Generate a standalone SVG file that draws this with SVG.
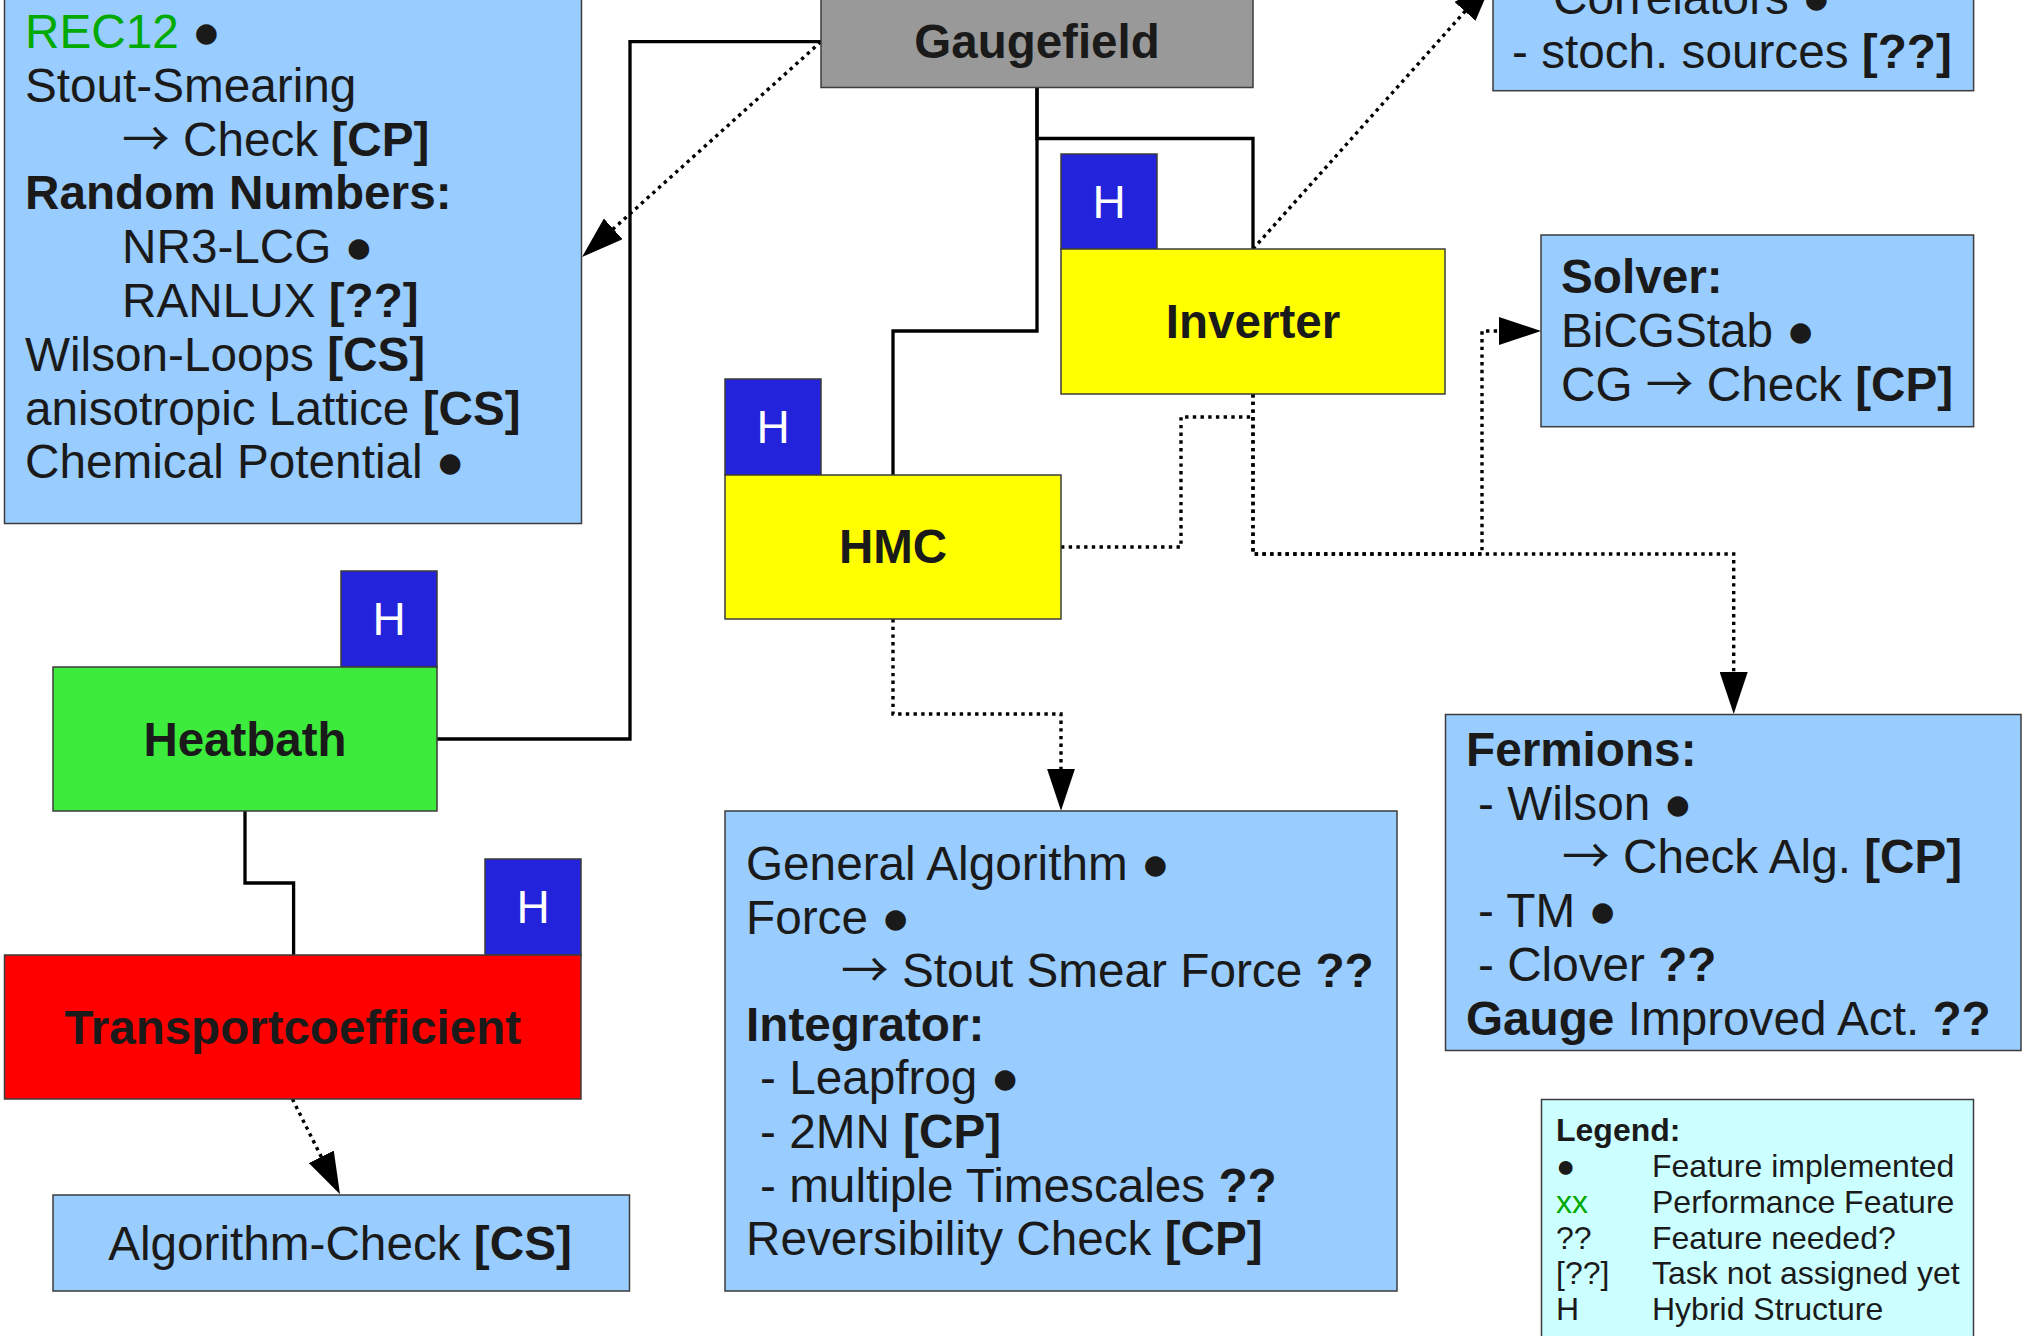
<svg xmlns="http://www.w3.org/2000/svg" width="2029" height="1336" viewBox="0 0 2029 1336">
<style>
text{font-family:"Liberation Sans",Arial,sans-serif;fill:#1a1a1a}
.t{font-size:47.7px}
.lbl{font-size:47.5px;font-weight:bold;text-anchor:middle}
.h{font-size:46px;fill:#ffffff;text-anchor:middle}
.lg{font-size:32px}
.b{font-weight:bold}
.g{fill:#00aa00}
.ar{font-family:"Noto Sans CJK SC","DejaVu Sans",sans-serif;font-weight:normal}
.box{stroke:#3c3c3c;stroke-width:1.5}
.info{fill:#99ccff}
.hb{fill:#2323dc}
.solid{fill:none;stroke:#000;stroke-width:3.3}
.dot{fill:none;stroke:#000;stroke-width:3.4;stroke-dasharray:3.4 4.3}
</style>
<defs>
<marker id="arr" markerUnits="userSpaceOnUse" markerWidth="42" markerHeight="28" viewBox="0 0 42 28" refX="36" refY="14" orient="auto">
<path d="M0,0 L42,14 L0,28 z" fill="#000"/>
</marker>
</defs>
<rect width="2029" height="1336" fill="#ffffff"/>

<g id="connectors">
<path class="solid" d="M821,41.7 H630 V739 H437"/>
<path class="solid" d="M1037,87.5 V331 H893 V475"/>
<path class="solid" d="M1037,87.5 V138.5 H1253 V249"/>
<path class="solid" d="M245,811 V883 H293.6 V955"/>
<path class="dot" d="M821,41.7 L586.5,253" marker-end="url(#arr)"/>
<path class="dot" d="M1253,249 L1489,-15.5" marker-end="url(#arr)"/>
<path class="dot" d="M1253,394 V554 H1482 V331 H1535" marker-end="url(#arr)"/>
<path class="dot" d="M1253,394 V554 H1733.7 V708" marker-end="url(#arr)"/>
<path class="dot" d="M1061,547 H1181 V417 H1253"/>
<path class="dot" d="M893,619 V714 H1061 V804.7" marker-end="url(#arr)"/>
<path class="dot" d="M292.4,1099 L337.3,1189" marker-end="url(#arr)"/>
</g>

<g id="gauge-features">
<rect class="box info" x="4.5" y="-10" width="577" height="533.5"/>
<text class="t" x="25" y="48"><tspan class="g">REC12</tspan> ●</text>
<text class="t" x="25" y="101.8">Stout-Smearing</text>
<text class="t" x="122" y="155.6"><tspan class="ar">→</tspan> Check <tspan class="b">[CP]</tspan></text>
<text class="t b" x="25" y="209.4">Random Numbers:</text>
<text class="t" x="122" y="263.2">NR3-LCG ●</text>
<text class="t" x="122" y="317">RANLUX <tspan class="b">[??]</tspan></text>
<text class="t" x="25" y="370.8">Wilson-Loops <tspan class="b">[CS]</tspan></text>
<text class="t" x="25" y="424.6">anisotropic Lattice <tspan class="b">[CS]</tspan></text>
<text class="t" x="25" y="478.4">Chemical Potential ●</text>
</g>

<g id="gaugefield">
<rect class="box" x="821" y="-57" width="432" height="144.5" fill="#999999"/>
<text class="lbl" x="1037" y="58">Gaugefield</text>
</g>

<g id="correlators">
<rect class="box info" x="1493" y="-20" width="480.6" height="110.7"/>
<text class="t" x="1553" y="14">Correlators ●</text>
<text class="t" x="1512" y="68">- stoch. sources <tspan class="b">[??]</tspan></text>
</g>

<g id="inverter">
<rect class="box hb" x="1061" y="154" width="96" height="95"/>
<text class="h" x="1109" y="218">H</text>
<rect class="box" x="1061" y="249" width="384" height="145" fill="#ffff00"/>
<text class="lbl" x="1253" y="338">Inverter</text>
</g>

<g id="solver">
<rect class="box info" x="1541" y="235" width="432.6" height="191.7"/>
<text class="t b" x="1561" y="293">Solver:</text>
<text class="t" x="1561" y="347">BiCGStab ●</text>
<text class="t" x="1561" y="401">CG <tspan class="ar">→</tspan> Check <tspan class="b">[CP]</tspan></text>
</g>

<g id="hmc">
<rect class="box hb" x="725" y="379" width="96" height="96"/>
<text class="h" x="773" y="443">H</text>
<rect class="box" x="725" y="475" width="336" height="144" fill="#ffff00"/>
<text class="lbl" x="893" y="563">HMC</text>
</g>

<g id="heatbath">
<rect class="box hb" x="341" y="571" width="96" height="96"/>
<text class="h" x="389" y="635">H</text>
<rect class="box" x="53" y="667" width="384" height="144" fill="#3deb3d"/>
<text class="lbl" x="245" y="756">Heatbath</text>
</g>

<g id="transportcoefficient">
<rect class="box hb" x="485" y="859" width="96" height="96"/>
<text class="h" x="533" y="923">H</text>
<rect class="box" x="4.5" y="955" width="576.5" height="144" fill="#ff0000"/>
<text class="lbl" x="292.7" y="1044">Transportcoefficient</text>
</g>

<g id="algorithm-check">
<rect class="box info" x="53" y="1195" width="576.5" height="96"/>
<text class="t" x="340" y="1260" text-anchor="middle">Algorithm-Check <tspan class="b">[CS]</tspan></text>
</g>

<g id="hmc-features">
<rect class="box info" x="725" y="811" width="672" height="480"/>
<text class="t" x="746" y="880">General Algorithm ●</text>
<text class="t" x="746" y="933.6">Force ●</text>
<text class="t" x="841" y="987.2"><tspan class="ar">→</tspan> Stout Smear Force <tspan class="b">??</tspan></text>
<text class="t b" x="746" y="1040.8">Integrator:</text>
<text class="t" x="760" y="1094.4">- Leapfrog ●</text>
<text class="t" x="760" y="1148">- 2MN <tspan class="b">[CP]</tspan></text>
<text class="t" x="760" y="1201.6">- multiple Timescales <tspan class="b">??</tspan></text>
<text class="t" x="746" y="1255.2">Reversibility Check <tspan class="b">[CP]</tspan></text>
</g>

<g id="fermions">
<rect class="box info" x="1445.5" y="714.5" width="575.5" height="336"/>
<text class="t b" x="1466" y="766">Fermions:</text>
<text class="t" x="1478" y="820">- Wilson ●</text>
<text class="t" x="1562" y="873"><tspan class="ar">→</tspan> Check Alg. <tspan class="b">[CP]</tspan></text>
<text class="t" x="1478" y="927">- TM ●</text>
<text class="t" x="1478" y="981">- Clover <tspan class="b">??</tspan></text>
<text class="t" x="1466" y="1035"><tspan class="b">Gauge</tspan> Improved Act. <tspan class="b">??</tspan></text>
</g>

<g id="legend">
<rect class="box" x="1541.5" y="1099.5" width="432" height="260" fill="#ccffff"/>
<text class="lg b" x="1556" y="1141.4">Legend:</text>
<text class="lg" x="1556" y="1177">●</text>
<text class="lg" x="1652" y="1177">Feature implemented</text>
<text class="lg g" x="1556" y="1213">xx</text>
<text class="lg" x="1652" y="1213">Performance Feature</text>
<text class="lg" x="1556" y="1248.5">??</text>
<text class="lg" x="1652" y="1248.5">Feature needed?</text>
<text class="lg" x="1556" y="1284">[??]</text>
<text class="lg" x="1652" y="1284">Task not assigned yet</text>
<text class="lg" x="1556" y="1320">H</text>
<text class="lg" x="1652" y="1320">Hybrid Structure</text>
</g>
</svg>
